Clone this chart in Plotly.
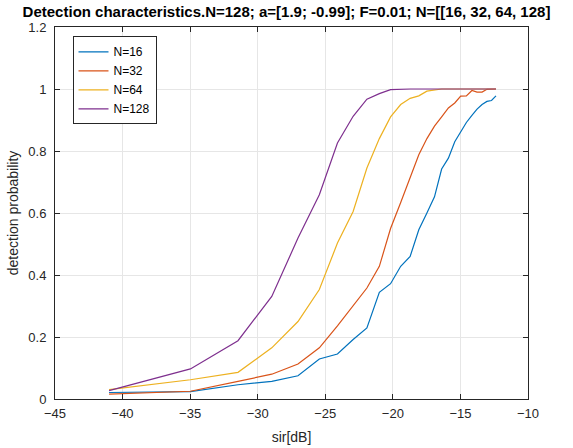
import plotly.graph_objects as go

# SIR points (dB), shared by all curves
sir_db = [-41.0, -34.98, -31.46, -28.96, -27.02, -25.44, -24.10, -22.94, -21.92,
          -21.0, -20.17, -19.42, -18.72, -18.08, -17.48, -16.92, -16.39, -15.89,
          -15.42, -14.98, -14.56, -14.15, -13.77, -13.40, -13.04, -12.70, -12.37]

p_n16 = [0.021, 0.024, 0.046, 0.057, 0.075, 0.129, 0.145, 0.192, 0.229,
         0.344, 0.372, 0.428, 0.460, 0.546, 0.600, 0.652, 0.742, 0.777,
         0.830, 0.860, 0.892, 0.915, 0.935, 0.950, 0.960, 0.963, 0.978]

p_n32 = [0.016, 0.025, 0.057, 0.080, 0.113, 0.165, 0.236, 0.300, 0.358,
         0.428, 0.550, 0.634, 0.713, 0.788, 0.840, 0.880, 0.910, 0.939,
         0.955, 0.977, 0.978, 0.995, 0.990, 0.990, 0.999, 1.0, 1.0]

p_n64 = [0.030, 0.062, 0.086, 0.165, 0.250, 0.353, 0.503, 0.605, 0.745,
         0.840, 0.910, 0.950, 0.970, 0.978, 0.993, 0.997, 1.0, 1.0,
         1.0, 1.0, 1.0, 1.0, 1.0, 1.0, 1.0, 1.0, 1.0]

p_n128 = [0.027, 0.097, 0.188, 0.331, 0.519, 0.659, 0.826, 0.912, 0.967,
          0.985, 0.998, 1.0, 1.0, 1.0, 1.0, 1.0, 1.0, 1.0,
          1.0, 1.0, 1.0, 1.0, 1.0, 1.0, 1.0, 1.0, 1.0]

series = [("N=16", p_n16, "#0072BD"),
          ("N=32", p_n32, "#D95319"),
          ("N=64", p_n64, "#EDB120"),
          ("N=128", p_n128, "#7E2F8E")]

x_ticks = [-45, -40, -35, -30, -25, -20, -15, -10]
y_ticks = [0, 0.2, 0.4, 0.6, 0.8, 1.0, 1.2]
y_tick_text = ["0", "0.2", "0.4", "0.6", "0.8", "1", "1.2"]

FONT = "Liberation Sans, Arial, sans-serif"

fig = go.Figure()
for name, vals, color in series:
    fig.add_trace(go.Scatter(x=sir_db, y=vals, mode="lines", name=name,
                             line=dict(color=color, width=1.2)))

axis_common = dict(showline=True, linecolor="#262626", linewidth=1, mirror="ticks",
                   ticks="inside", ticklen=5, tickcolor="#262626",
                   showgrid=True, gridcolor="#e6e6e6", gridwidth=1, zeroline=False,
                   automargin=False,
                   tickfont=dict(family=FONT, size=13, color="#262626"))

fig.update_xaxes(range=[-45, -10], tickvals=x_ticks, ticklabelstandoff=2,
                 title=dict(text="sir[dB]", font=dict(family=FONT, size=14, color="#262626"),
                            standoff=12),
                 **axis_common)
fig.update_yaxes(range=[0, 1.2], tickvals=y_ticks, ticktext=y_tick_text, ticklabelstandoff=5,
                 title=dict(text="detection probability", font=dict(family=FONT, size=14, color="#262626"),
                            standoff=6),
                 **axis_common)

fig.update_layout(
    width=573, height=448,
    margin=dict(l=55, r=45, t=27, b=49, autoexpand=False),
    paper_bgcolor="white", plot_bgcolor="white",
    title=dict(text="<b>Detection characteristics.N=128; a=[1.9; -0.99]; F=0.01; N=[[16, 32, 64, 128]</b>",
               x=0.5, xanchor="center", y=0.985, yanchor="top",
               font=dict(family=FONT, size=15, color="black"), automargin=False),
    legend=dict(x=0.037, y=0.975, xanchor="left", yanchor="top",
                bgcolor="white", bordercolor="#262626", borderwidth=1,
                font=dict(family=FONT, size=12, color="black"),
                tracegroupgap=0, itemwidth=30),
    showlegend=True,
)

# drop the default page margin so the figure sits at the window's corner
fig.write_html("out.html", config={"displayModeBar": False},
               post_script="document.body.style.margin='0';")
